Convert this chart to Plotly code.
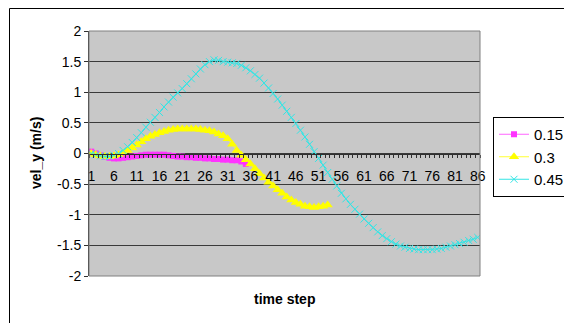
import plotly.graph_objects as go

# ---- data ----
series_names = ["0.15", "0.3", "0.45"]

vel_015 = [0.03, 0.0, -0.03, -0.05, -0.07, -0.08, -0.08, -0.07, -0.06, -0.05,
           -0.04, -0.03, -0.02, -0.02, -0.02, -0.02, -0.02, -0.03, -0.04, -0.05,
           -0.05, -0.06, -0.06, -0.07, -0.07, -0.08, -0.08, -0.09, -0.09, -0.10,
           -0.10, -0.11, -0.11, -0.13, -0.17]

vel_030 = [0.0, -0.02, -0.04, -0.05, -0.05, -0.04, -0.02, 0.01, 0.05, 0.09,
           0.14, 0.19, 0.24, 0.28, 0.31, 0.34, 0.36, 0.38, 0.39, 0.40,
           0.40, 0.40, 0.40, 0.40, 0.39, 0.38, 0.37, 0.35, 0.32, 0.29,
           0.24, 0.15, 0.05, -0.03, -0.10, -0.17, -0.25, -0.33, -0.40, -0.47,
           -0.53, -0.59, -0.65, -0.71, -0.76, -0.80, -0.83, -0.86, -0.87, -0.88,
           -0.87, -0.86, -0.84]

vel_045 = [0.0, -0.02, -0.04, -0.05, -0.05, -0.03, 0.0, 0.05, 0.11, 0.18,
           0.26, 0.34, 0.43, 0.51, 0.59, 0.67, 0.76, 0.84, 0.92, 0.99,
           1.06, 1.14, 1.22, 1.30, 1.38, 1.45, 1.50, 1.53, 1.52, 1.50,
           1.49, 1.48, 1.47, 1.44, 1.40, 1.35, 1.29, 1.23, 1.15, 1.07,
           0.98, 0.89, 0.79, 0.69, 0.59, 0.49, 0.38, 0.27, 0.15, 0.03,
           -0.08, -0.19, -0.31, -0.42, -0.53, -0.65, -0.74, -0.83, -0.91, -0.99,
           -1.07, -1.14, -1.21, -1.28, -1.34, -1.39, -1.44, -1.48, -1.51, -1.53,
           -1.55, -1.56, -1.57, -1.57, -1.57, -1.57, -1.56, -1.55, -1.53, -1.51,
           -1.49, -1.47, -1.45, -1.42, -1.40, -1.37]

n_steps = 86
time_steps = list(range(1, n_steps + 1))
x_tick_vals = time_steps
x_tick_text = [str(t) if (t - 1) % 5 == 0 else "" for t in time_steps]
y_tick_vals = [-2, -1.5, -1, -0.5, 0, 0.5, 1, 1.5, 2]
y_tick_text = ["-2", "-1.5", "-1", "-0.5", "0", "0.5", "1", "1.5", "2"]

FONT = "Liberation Sans, Arial, sans-serif"

fig = go.Figure()
fig.add_trace(go.Scatter(
    x=time_steps[:len(vel_015)], y=vel_015, name=series_names[0],
    mode="lines+markers",
    line=dict(color="#FF66FF", width=1),
    marker=dict(symbol="square", size=6, color="#FF33FF"),
))
fig.add_trace(go.Scatter(
    x=time_steps[:len(vel_030)], y=vel_030, name=series_names[1],
    mode="lines+markers",
    line=dict(color="#FFFF33", width=1),
    marker=dict(symbol="triangle-up", size=9, color="#FFFF00"),
))
fig.add_trace(go.Scatter(
    x=time_steps[:len(vel_045)], y=vel_045, name=series_names[2],
    mode="lines+markers",
    line=dict(color="#33E5E5", width=1),
    marker=dict(symbol="x-thin", size=7, color="#33E5E5",
                line=dict(color="#33E5E5", width=1)),
))

L, R, T, B = 89, 84, 31, 47
plot_w = 564 - L - R
plot_h = 323 - T - B

def px_x(px):
    return (px - L) / plot_w

def px_y(py):
    return (323 - B - py) / plot_h

fig.update_layout(
    width=564, height=323,
    margin=dict(l=L, r=R, t=T, b=B, pad=0, autoexpand=False),
    paper_bgcolor="white",
    plot_bgcolor="#C8C8C8",
    font=dict(family=FONT, size=14, color="black"),
    showlegend=True,
    legend=dict(
        x=px_x(493), y=px_y(117), xanchor="left", yanchor="top",
        bgcolor="white", bordercolor="black", borderwidth=1,
        font=dict(family=FONT, size=15, color="black"),
        tracegroupgap=0,
    ),
    xaxis=dict(
        range=[0.5, n_steps + 0.5],
        anchor="free", position=0.5,
        tickmode="array", tickvals=x_tick_vals, ticktext=x_tick_text,
        ticks="", ticklabelstandoff=10,
        showline=True, linecolor="#303030", linewidth=1,
        showgrid=False, zeroline=False,
        minor=dict(tick0=0.5, dtick=1, ticks="outside", ticklen=3,
                   tickcolor="#303030", showgrid=False),
        tickfont=dict(family=FONT, size=14),
    ),
    yaxis=dict(
        range=[-2, 2],
        tickmode="array", tickvals=y_tick_vals, ticktext=y_tick_text,
        ticks="outside", ticklen=4, tickcolor="#303030",
        showline=True, linecolor="#303030", linewidth=1,
        showgrid=True, gridcolor="#3A3A3A", gridwidth=1,
        zeroline=False,
        tickfont=dict(family=FONT, size=14),
    ),
    annotations=[
        dict(text="<b>vel_y (m/s)</b>", xref="paper", yref="paper",
             x=px_x(36), y=px_y(153), textangle=-90, showarrow=False,
             xanchor="center", yanchor="middle",
             font=dict(family=FONT, size=14, color="black")),
        dict(text="<b>time step</b>", xref="paper", yref="paper",
             x=px_x(284), y=px_y(299), showarrow=False,
             xanchor="center", yanchor="middle",
             font=dict(family=FONT, size=14, color="black")),
    ],
    shapes=[
        # plot area border
        dict(type="rect", xref="paper", yref="paper", x0=0, y0=0, x1=1, y1=1,
             line=dict(color="#808080", width=1), layer="above"),
        # outer chart border: top and left edges (the rest is past the picture)
        dict(type="line", xref="paper", yref="paper",
             x0=px_x(9.5), y0=px_y(8.5), x1=px_x(570), y1=px_y(8.5),
             line=dict(color="black", width=1)),
        dict(type="line", xref="paper", yref="paper",
             x0=px_x(9.5), y0=px_y(8.5), x1=px_x(9.5), y1=px_y(330),
             line=dict(color="black", width=1)),
    ],
)

fig.write_html("out.html")
